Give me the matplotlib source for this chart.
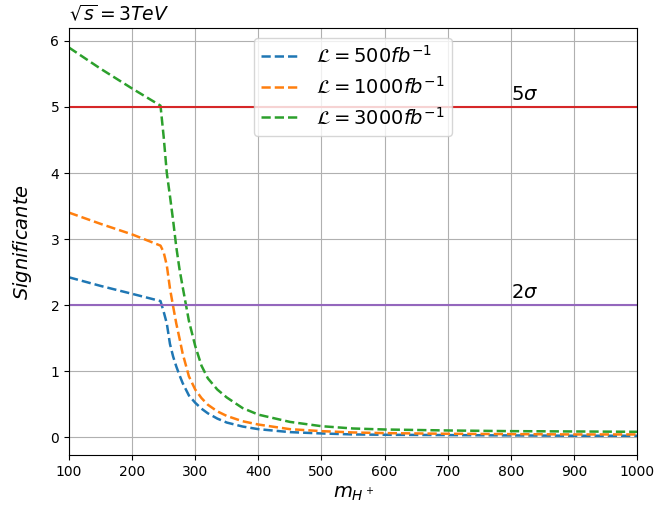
import numpy as np
import matplotlib.pyplot as plt

# masa del Higgs cargado (GeV)
masas = [100, 150, 200, 245, 250, 255, 260, 265, 270, 275, 280, 290, 300, 310, 320,
         335, 350, 375, 400, 450, 500, 550, 600, 700, 800, 900, 1000]

# significancia para cada luminosidad
sig_500 = [2.42, 2.29, 2.17, 2.06, 1.90, 1.72, 1.41, 1.22, 1.07, 0.94, 0.82, 0.63,
           0.52, 0.43, 0.36, 0.28, 0.22, 0.16, 0.12, 0.075, 0.055, 0.04, 0.035,
           0.03, 0.025, 0.02, 0.02]
sig_1000 = [3.40, 3.23, 3.07, 2.90, 2.80, 2.60, 2.25, 1.98, 1.72, 1.50, 1.27, 0.92,
            0.72, 0.59, 0.49, 0.39, 0.32, 0.24, 0.19, 0.12, 0.09, 0.07, 0.06,
            0.05, 0.045, 0.04, 0.04]
sig_3000 = [5.90, 5.58, 5.28, 5.02, 4.55, 4.00, 3.65, 3.28, 2.88, 2.55, 2.28, 1.76,
            1.38, 1.08, 0.89, 0.72, 0.60, 0.44, 0.34, 0.23, 0.165, 0.13, 0.115,
            0.10, 0.09, 0.085, 0.08]

etiquetas = [r'$\mathcal{L} = 500fb^{-1}$',
             r'$\mathcal{L} = 1000fb^{-1}$',
             r'$\mathcal{L} = 3000fb^{-1}$']

fig = plt.figure(figsize=(6.57, 5.12), dpi=100)
ax = fig.add_axes([0.105, 0.111, 0.8646, 0.834])

ax.plot(masas, sig_500, '--', lw=1.8, label=etiquetas[0])
ax.plot(masas, sig_1000, '--', lw=1.8, label=etiquetas[1])
ax.plot(masas, sig_3000, '--', lw=1.8, label=etiquetas[2])

ax.axhline(5, color='tab:red')
ax.axhline(2, color='tab:purple')
ax.text(800, 5.1, r'$5\sigma$', fontsize=14)
ax.text(800, 2.1, r'$2\sigma$', fontsize=14)

ax.set_xlim(100, 1000)
ax.set_xlabel(r'$m_{H^+}$', fontsize=14)
ax.set_ylabel(r'$Significante$', fontsize=14, labelpad=12)
ax.set_title(r'$\sqrt{s} = 3TeV$', loc='left', fontsize=13.5)
ax.grid(True)
ax.legend(loc='upper center', fontsize=14)

fig.savefig('out.png')
